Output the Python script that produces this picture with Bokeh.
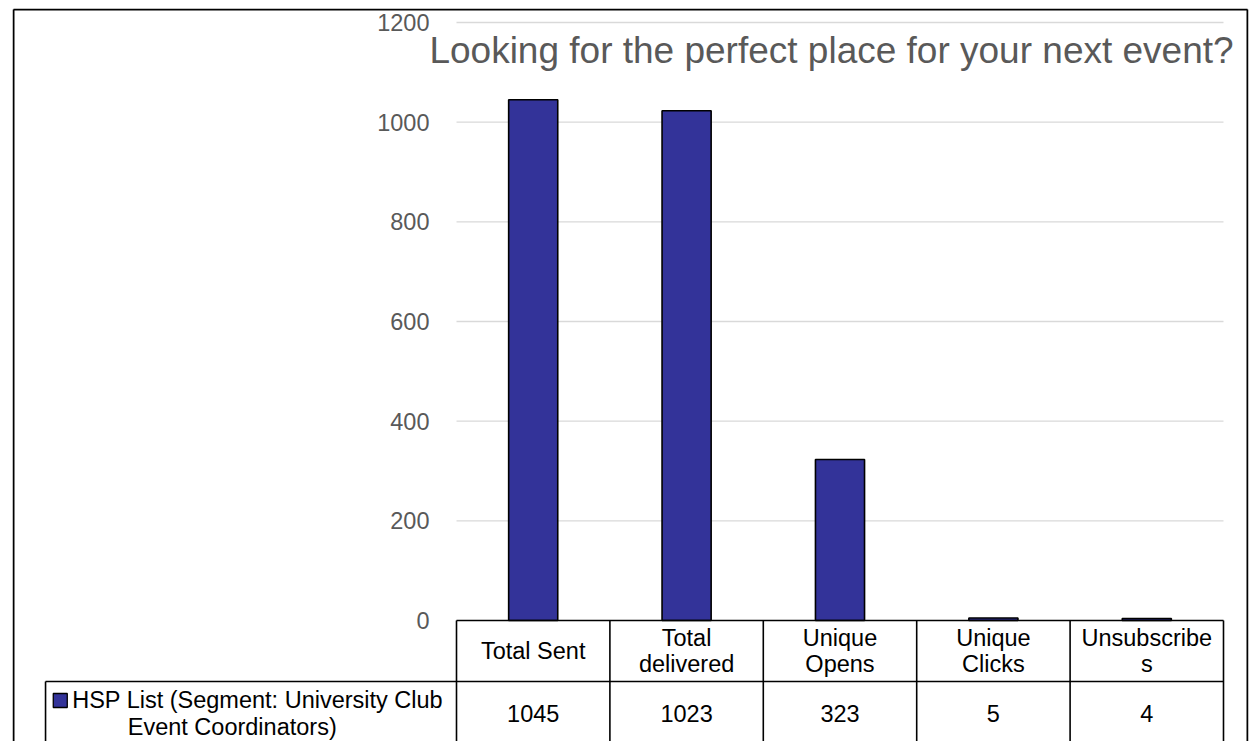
from bokeh.plotting import figure
from bokeh.models import Range1d, LinearAxis, FixedTicker
from bokeh.core.properties import value
from bokeh.embed import file_html
from bokeh.resources import INLINE

# ---- data ----
title_text = "Looking for the perfect place for your next event?"
categories = ["Total Sent", "Total\ndelivered", "Unique\nOpens", "Unique\nClicks", "Unsubscribe\ns"]
series_name_line1 = "HSP List (Segment: University Club"
series_name_line2 = "Event Coordinators)"
values = [1045, 1023, 323, 5, 4]
y_ticks = [0, 200, 400, 600, 800, 1000, 1200]

# ---- style ----
FONT = value("Liberation Sans")
BAR_COLOR = "#333399"
GRAY = "#595959"
GRID = "#d9d9d9"

n = len(categories)
header_bottom = -122.4
value_bottom = -250.0
legend_left = -2.679
# chart-area border (left, right, top) in plot coordinates
border_left, border_right, border_top = -2.8879, 5.1565, 1226.09

p = figure(width=1252, height=741, output_backend="svg", toolbar_location=None,
           x_axis_type=None, y_axis_type=None,
           x_range=Range1d(-2.8944, 5.1630), y_range=Range1d(-242.81, 1228.09),
           min_border_left=12, min_border_right=4, min_border_top=8, min_border_bottom=0)
p.outline_line_color = None
p.background_fill_color = "white"
p.border_fill_color = "white"

# y axis drawn at the left edge of the plotting area
yaxis = LinearAxis(fixed_location=0, ticker=FixedTicker(ticks=y_ticks))
yaxis.axis_line_color = None
yaxis.major_tick_line_color = None
yaxis.minor_tick_line_color = None
yaxis.major_label_standoff = 21
yaxis.major_label_text_font = "Liberation Sans"
yaxis.major_label_text_font_size = "23.5px"
yaxis.major_label_text_color = GRAY
p.add_layout(yaxis, "left")

# outer chart border (bottom edge lies below the visible window)
p.segment(x0=[border_left, border_right, border_left],
          x1=[border_left, border_right, border_right],
          y0=[border_top, border_top, border_top],
          y1=[value_bottom, value_bottom, border_top],
          line_color="black", line_width=2)

# gridlines
grid_ticks = [t for t in y_ticks if t > 0]
p.segment(x0=[0] * len(grid_ticks), x1=[n] * len(grid_ticks), y0=grid_ticks, y1=grid_ticks,
          line_color=GRID, line_width=1.3)

# bars
xs = [i + 0.5 for i in range(n)]
p.vbar(x=xs, top=values, bottom=0, width=0.32, fill_color=BAR_COLOR,
       line_color="black", line_width=1.6)

# data table lines
hx0 = [0, legend_left]
hx1 = [n, n]
hy = [0, header_bottom]
p.segment(x0=hx0, x1=hx1, y0=hy, y1=hy, line_color="black", line_width=1.6)
vx = list(range(n + 1))
p.segment(x0=vx, x1=vx, y0=[0] * len(vx), y1=[value_bottom] * len(vx),
          line_color="black", line_width=1.6)
p.segment(x0=[legend_left], x1=[legend_left], y0=[header_bottom], y1=[value_bottom],
          line_color="black", line_width=1.6)

# header labels
p.text(x=xs, y=[header_bottom / 2] * n, text=categories, text_font=FONT,
       text_font_size=value("23.5px"), text_color="black", text_align="center",
       text_baseline="middle", text_line_height=1.03)
# values row
value_mid = (header_bottom + value_bottom) / 2
p.text(x=xs, y=[value_mid] * n, text=[str(v) for v in values], text_font=FONT,
       text_font_size=value("23.5px"), text_color="black", text_align="center",
       text_baseline="middle")

# legend key + series name
p.scatter(x=[-2.583], y=[-160.5], marker="square", size=14, fill_color=BAR_COLOR,
          line_color="black", line_width=1.3)
p.text(x=[-2.5052], y=[-160.5], text=[series_name_line1], text_font=FONT,
       text_font_size=value("23.5px"), text_color="black", text_align="left",
       text_baseline="middle")
p.text(x=[-1.462], y=[-213.7], text=[series_name_line2], text_font=FONT,
       text_font_size=value("23.5px"), text_color="black", text_align="center",
       text_baseline="middle")

# chart title
p.text(x=[2.4446], y=[1143.8], text=[title_text], text_font=FONT,
       text_font_size=value("37px"), text_color=GRAY, text_align="center",
       text_baseline="middle")

open("out.html", "w").write(file_html(p, INLINE))
